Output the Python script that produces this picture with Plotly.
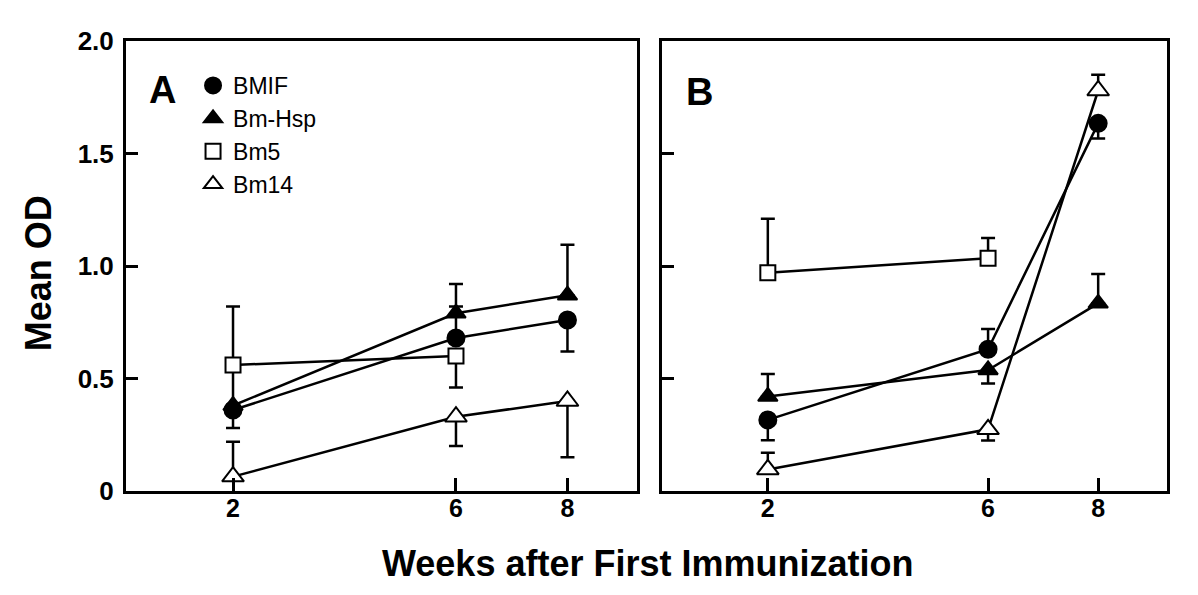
import plotly.graph_objects as go

weeks = [2, 6, 8]

# panel A (mean OD, error bar up / down; 0 = not drawn)
a_bmif = [0.36, 0.68, 0.76]
a_bmif_up = [0, 0.14, 0]
a_bmif_dn = [0.08, 0, 0.14]
a_hsp = [0.38, 0.79, 0.87]
a_hsp_up = [0.15, 0.13, 0.225]
a_hsp_dn = [0, 0, 0]
a_bm5 = [0.56, 0.60, None]
a_bm5_up = [0.26, 0, 0]
a_bm5_dn = [0, 0.14, 0]
a_bm14 = [0.064, 0.33, 0.40]
a_bm14_up = [0.155, 0, 0]
a_bm14_dn = [0, 0.13, 0.25]

# panel B
b_bmif = [0.316, 0.63, 1.634]
b_bmif_up = [0, 0.09, 0]
b_bmif_dn = [0.09, 0, 0.067]
b_hsp = [0.42, 0.538, 0.834]
b_hsp_up = [0.10, 0, 0.13]
b_hsp_dn = [0, 0.06, 0]
b_bm5 = [0.97, 1.034, None]
b_bm5_up = [0.24, 0.09, 0]
b_bm5_dn = [0, 0, 0]
b_bm14 = [0.096, 0.274, 1.78]
b_bm14_up = [0.074, 0, 0.07]
b_bm14_dn = [0, 0.05, 0]

names = ["BMIF", "Bm-Hsp", "Bm5", "Bm14"]
symbols = ["circle", "triangle-up", "square", "triangle-up"]
fills = ["black", "black", "white", "white"]
sizes = [17, 17, 15, 19]

panels = [
    ("x", "y", [a_bmif, a_hsp, a_bm5, a_bm14],
     [a_bmif_up, a_hsp_up, a_bm5_up, a_bm14_up],
     [a_bmif_dn, a_hsp_dn, a_bm5_dn, a_bm14_dn], True),
    ("x2", "y2", [b_bmif, b_hsp, b_bm5, b_bm14],
     [b_bmif_up, b_hsp_up, b_bm5_up, b_bm14_up],
     [b_bmif_dn, b_hsp_dn, b_bm5_dn, b_bm14_dn], False),
]

fig = go.Figure()
for xa, ya, vals, ups, dns, legend in panels:
    # lines and error bars first, markers on top
    for i in range(4):
        xs = [w for w, v in zip(weeks, vals[i]) if v is not None]
        ys = [v for v in vals[i] if v is not None]
        fig.add_trace(go.Scatter(
            x=xs, y=ys, mode="lines", xaxis=xa, yaxis=ya,
            line=dict(color="black", width=2.5),
            error_y=dict(type="data", array=ups[i][:len(ys)],
                         arrayminus=dns[i][:len(ys)], symmetric=False,
                         color="black", thickness=2.5, width=7),
            showlegend=False, hoverinfo="skip",
        ))
    for i in range(4):
        xs = [w for w, v in zip(weeks, vals[i]) if v is not None]
        ys = [v for v in vals[i] if v is not None]
        fig.add_trace(go.Scatter(
            x=xs, y=ys, mode="markers", xaxis=xa, yaxis=ya, name=names[i],
            marker=dict(symbol=symbols[i], size=sizes[i], color=fills[i],
                        line=dict(color="black", width=2)),
            showlegend=legend,
        ))

font = "Arial, Liberation Sans"
xcommon = dict(range=[0.08, 9.25], tickvals=[2, 6, 8],
               ticktext=["<b>2</b>", "<b>6</b>", "<b>8</b>"],
               ticks="inside", ticklen=13, tickwidth=2.5, tickcolor="black",
               showline=True, linewidth=3, linecolor="black", mirror=True,
               showgrid=False, zeroline=False, ticklabelstandoff=-7,
               tickfont=dict(family=font, size=25, color="black"))
ycommon = dict(range=[0, 2.0], tickvals=[0, 0.5, 1.0, 1.5, 2.0],
               ticktext=["<b>0</b>", "<b>0.5</b>", "<b>1.0</b>", "<b>1.5</b>", "<b>2.0</b>"],
               ticks="inside", ticklen=12, tickwidth=2.5, tickcolor="black",
               showline=True, linewidth=3, linecolor="black", mirror=True,
               showgrid=False, zeroline=False, ticklabelstandoff=4,
               tickfont=dict(family=font, size=26, color="black"))

fig.update_layout(
    width=1182, height=579,
    margin=dict(l=118, r=23, t=33, b=96),
    paper_bgcolor="white", plot_bgcolor="white",
    font=dict(family=font, color="black"),
    xaxis=dict(domain=[0, 0.491], **xcommon),
    xaxis2=dict(domain=[0.515, 1], **xcommon),
    yaxis=dict(anchor="x", **ycommon),
    yaxis2=dict(anchor="x2", showticklabels=False, **ycommon),
    legend=dict(x=0.0644, y=0.949, xanchor="left", yanchor="top",
                font=dict(family=font, size=23, color="black"),
                bgcolor="rgba(0,0,0,0)", itemwidth=30, tracegroupgap=0),
    showlegend=True,
)

labels = [
    ("<b>A</b>", 0.0355, 0.891, 38, 0),
    ("<b>B</b>", 0.551, 0.887, 38, 0),
    ("<b>Weeks after First Immunization</b>", 0.5005, -0.16, 36, 0),
    ("<b>Mean OD</b>", -0.0845, 0.484, 36, -90),
]
for txt, px_, py_, fs, ang in labels:
    fig.add_annotation(text=txt, x=px_, y=py_, xref="paper", yref="paper",
                       xanchor="center", yanchor="middle", showarrow=False,
                       textangle=ang, font=dict(size=fs))

fig.write_html("out.html")
